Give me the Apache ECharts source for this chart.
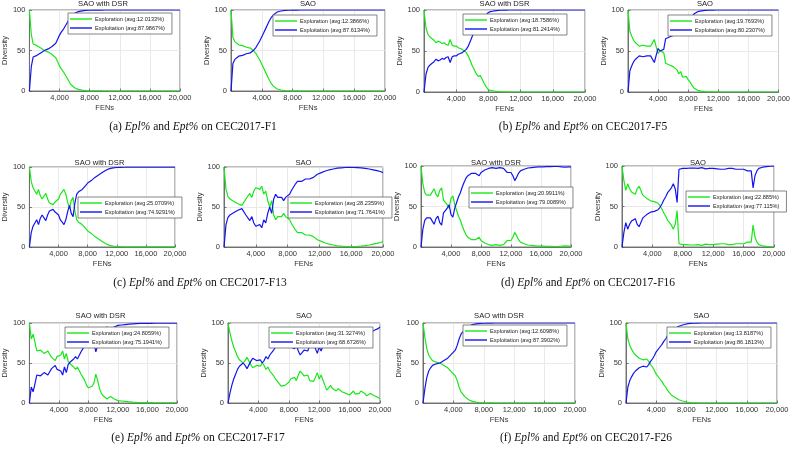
<!DOCTYPE html>
<html><head><meta charset="utf-8">
<script src="https://cdn.jsdelivr.net/npm/echarts@6/dist/echarts.min.js"></script>
<style>html,body{margin:0;padding:0;background:#fff}#c{width:793px;height:451px}</style>
</head><body><div id="c"></div>
<script>
// sampling grid of function evaluations (FENs), 0..20000
const FENS = Array.from({length: 81}, (_, i) => i * 250);

const EPL_F1_DSR = [100,70,58,57,56,55,53,51,50,50, 48,47,45,43,41,36,31,27,24,20, 16,12,8,6,4,3,2,1.5,1,0.8, 0.5,0.4,0.3,0.2,0.2,0.1,0.1,0.1,0.1,0.1, 0,0,0,0,0,0,0,0,0,0, 0,0,0,0,0,0,0,0,0,0, 0,0,0,0,0,0,0,0,0,0, 0,0,0,0,0,0,0,0,0,0, 0];
const EPL_F1_SAO = [100,66,61,59,57,57,56,55,54,55, 53,51,49,46,42,38,33,28,23,18, 13,9,6,4,2.5,1.8,1.2,0.8,0.5,0.4, 0.3,0.2,0.2,0.1,0.1,0.1,0,0,0,0, 0,0,0,0,0,0,0,0,0,0, 0,0,0,0,0,0,0,0,0,0, 0,0,0,0,0,0,0,0,0,0, 0,0,0,0,0,0,0,0,0,0, 0];
const EPL_F5_DSR = [100,78,70,67,65,63,60,62,61,59, 60,58,57,64,57,56,56,54,53,52, 50,48,44,38,32,27,22,19,20,15, 10,6,3,2,1.5,1,0.7,0.5,0.3,0.2, 0.1,0.1,0,0,0,0,0,0,0,0, 0,0,0,0,0,0,0,0,0,0, 0,0,0,0,0,0,0,0,0,0, 0,0,0,0,0,0,0,0,0,0, 0];
const EPL_F5_SAO = [100,74,68,63,60,58,56,55,57,56, 56,57,56,55,64,55,47,50,49,48, 35,34,33,35,31,29,27,22,25,18, 20,19,15,12,8,5,3,2,1.5,1, 0.6,0.4,0.3,0.2,0.1,0.1,0,0,0,0, 0,0,0,0,0,0,0,0,0,0, 0,0,0,0,0,0,0,0,0,0, 0,0,0,0,0,0,0,0,0,0, 0];
const EPL_F13_DSR = [100,82,74,70,66,72,64,60,58,67, 60,55,54,53,56,58,60,66,69,72, 66,56,48,58,62,45,34,31,29,28, 26,23,20,19,17,15,13,12,10,9, 7,5,4,3,2,1.5,1,0.8,0.6,0.5, 0.4,0.3,0.3,0.2,0.2,0.2,0.2,0.2,0.2,0.2, 0.2,0.2,0.2,0.2,0.2,0.2,0.2,0.2,0.2,0.2, 0.2,0.2,0.2,0.2,0.2,0.2,0.2,0.2,0.2,0.2, 0.2];
const EPL_F13_SAO = [100,72,63,60,58,57,55,54,53,52, 51,60,58,67,62,70,74,75,72,76, 66,70,58,50,58,40,34,38,40,38, 42,38,36,34,29,25,21,18,17,18, 16,15,16,15,17,13,11,9,8,7, 6,5,4,3.5,3,2.5,2,1.5,1.2,1, 0.8,0.6,0.5,0.5,0.5,0.6,0.7,0.8,1,1.2, 1.5,1.8,2,2.5,3,3.5,4,4.5,5,6, 7];
const EPL_F16_DSR = [100,78,67,64,62,64,68,72,65,62, 70,73,58,55,52,48,60,63,52,45, 38,33,26,20,15,12,10,9,8,9, 10,12,8,6,5,4,3,3,2,2, 3,4,2,2,3,5,8,7,8,12, 18,14,9,6,5,4,3,2.5,2,2, 1.5,1.5,1.2,1,1,1,0.9,0.8,0.8,0.7, 0.6,0.6,0.5,0.6,0.8,1,1.2,1.5,1.2,1, 1];
const EPL_F16_SAO = [100,82,70,78,72,68,66,65,72,75, 74,64,62,60,58,57,55,56,56,54, 51,47,42,38,33,30,27,22,28,45, 4,3,3,2.5,3,2,2.5,3,2.5,2, 3,2.5,2,3,3.5,4,3,2.5,3,4, 3.5,3,4,3,4,3.5,3,4,3,3.5, 4,3,4,5,4,5,6,5,6,27, 12,6,3,2,1.5,1,0.7,0.5,0.3,0.2, 0.2];
const EPL_F17_DSR = [100,80,86,76,65,64,66,64,62,60, 65,61,57,55,53,58,56,60,65,55, 62,52,49,47,45,42,45,43,36,32, 28,22,19,18,21,25,36,28,18,12, 9,7,5,6,8,6,5,4,3,3, 2.5,2,2,1.8,1.5,1.2,1,0.8,0.7,0.6, 0.5,0.5,0.5,0.4,0.4,0.4,0.4,0.3,0.3,0.3, 0.3,0.3,0.3,0.3,0.3,0.3,0.3,0.3,0.3,0.3, 0.3];
const EPL_F17_SAO = [100,88,78,70,64,58,54,55,50,53, 57,58,48,44,42,47,48,46,50,47, 42,45,40,38,34,30,27,24,21,20, 22,23,26,30,30,32,28,35,40,37, 34,32,35,28,30,27,32,38,30,35, 33,22,16,19,22,18,16,15,18,16, 14,13,12,11,10,12,15,11,10,12, 15,14,12,9,10,12,11,9,8,7, 5];
const EPL_F26_DSR = [100,82,68,60,56,53,55,51,50,50, 49,47,46,44,42,39,37,34,28,20, 14,11,8,6,4,3,2,1.5,1,0.8, 0.5,0.4,0.3,0.2,0.1,0.1,0.1,0,0,0, 0,0,0,0,0,0,0,0,0,0, 0,0,0,0,0,0,0,0,0,0, 0,0,0,0,0,0,0,0,0,0, 0,0,0,0,0,0,0,0,0,0, 0];
const EPL_F26_SAO = [100,80,72,67,63,60,58,56,55,54, 53,55,52,48,45,41,36,34,30,27, 23,20,16,13,10,8.5,7,5.5,4,3, 2.5,2,1.2,0.8,0.5,0.4,0.3,0.2,0.1,0.1, 0,0,0,0,0,0,0,0,0,0, 0,0,0,0,0,0,0,0,0,0, 0,0,0,0,0,0,0,0,0,0, 0,0,0,0,0,0,0,0,0,0, 0];

const EPL_SERIES = [EPL_F1_DSR, EPL_F1_SAO, EPL_F5_DSR, EPL_F5_SAO, EPL_F13_DSR, EPL_F13_SAO,
                    EPL_F16_DSR, EPL_F16_SAO, EPL_F17_DSR, EPL_F17_SAO, EPL_F26_DSR, EPL_F26_SAO];
const PANEL_TITLES = ['SAO with DSR','SAO','SAO with DSR','SAO','SAO with DSR','SAO',
                      'SAO with DSR','SAO','SAO with DSR','SAO','SAO with DSR','SAO'];
const EPL_AVG = ['12.0133','12.3866','18.7586','19.7693','25.0709','28.2359','20.9911','22.885','24.8059','31.3274','12.6098','13.8187'];
const EPT_AVG = ['87.9867','87.6134','81.2414','80.2307','74.9291','71.7641','79.0089','77.115','75.1941','68.6726','87.3902','86.1813'];
const CAPTION_LETTERS = ['(a)','(b)','(c)','(d)','(e)','(f)'];
const CAPTION_FUNCS = ['CEC2017-F1','CEC2017-F5','CEC2017-F13','CEC2017-F16','CEC2017-F17','CEC2017-F26'];
const X_TICKS = [0, 4000, 8000, 12000, 16000, 20000];

// layout (pixels)
const GRID_BOX = [[26,10,154,81],[231,10,154,81],[424,10,161,82],[628,10,154,82],
                  [24,167,151,80],[224,167,159,80],[421,166,150,81],[622,166,152,81],
                  [24,323,153,80],[228,323,152,80],[423,323,152,80],[626,323,151,80]];
const LEGEND_POS = [[68,13],[273,15],[463,14],[668,15],[78,197],[288,197],[469,187],[686,191],
                    [65,327],[269,327],[463,325],[667,327]];
const TITLE_Y = [4,4,4,4,163,163,163,163,316,316,316,316];
const CAPTION_POS = [[193,127],[583,127],[200,283],[588,283],[198,438],[586,438]];

const SANS = "'Liberation Sans', Arial, sans-serif";
const SERIF = "'Liberation Serif', 'Times New Roman', serif";
const GREEN = '#18e818', BLUE = '#1414f0';

const grid = [], xAxis = [], yAxis = [], series = [], legend = [], title = [];
EPL_SERIES.forEach((epl, k) => {
  const [l, t, w, h] = GRID_BOX[k];
  grid.push({left: l, top: t, width: w, height: h, show: true, borderColor: '#555', borderWidth: 0.8, backgroundColor: '#fff'});
  xAxis.push({
    gridIndex: k, type: 'value', min: X_TICKS[0], max: X_TICKS[X_TICKS.length-1], interval: X_TICKS[1]-X_TICKS[0],
    axisLine: {show: true, lineStyle: {color: '#555', width: 0.8}},
    axisTick: {show: true, inside: true, length: 2.5, lineStyle: {color: '#555', width: 0.8}},
    axisLabel: {fontSize: 7.5, fontFamily: SANS, color: '#333', margin: 3,
      formatter: v => v === 0 ? '' : v.toLocaleString('en-US')},
    splitLine: {show: true, lineStyle: {color: '#e4e4e4', width: 0.8}},
    name: 'FENs', nameLocation: 'middle', nameGap: 13,
    nameTextStyle: {fontSize: 7.5, fontFamily: SANS, color: '#333'}
  });
  yAxis.push({
    gridIndex: k, type: 'value', min: 0, max: 100, interval: 50,
    axisLine: {show: true, lineStyle: {color: '#555', width: 0.8}},
    axisTick: {show: true, inside: true, length: 2.5, lineStyle: {color: '#555', width: 0.8}},
    axisLabel: {fontSize: 7.5, fontFamily: SANS, color: '#333', margin: 4},
    splitLine: {show: true, lineStyle: {color: '#e4e4e4', width: 0.8}},
    name: 'Diversity', nameLocation: 'middle', nameGap: 13,
    nameTextStyle: {fontSize: 7.5, fontFamily: SANS, color: '#333'}
  });
  const nEpl = 'Exploration (avg:' + EPL_AVG[k] + '%)';
  const nEpt = 'Exploitation (avg:' + EPT_AVG[k] + '%)';
  // Exploitation is the complement of exploration (Epl% + Ept% = 100)
  const ept = epl.map(v => 100 - v);
  series.push({name: nEpl, type: 'line', xAxisIndex: k, yAxisIndex: k, symbol: 'none', showSymbol: false,
    color: GREEN, lineStyle: {color: GREEN, width: 1.2}, data: FENS.map((x, i) => [x, epl[i]])});
  series.push({name: nEpt, type: 'line', xAxisIndex: k, yAxisIndex: k, symbol: 'none', showSymbol: false,
    color: BLUE, lineStyle: {color: BLUE, width: 1.2}, data: FENS.map((x, i) => [x, ept[i]])});
  legend.push({
    data: [nEpl, nEpt], left: LEGEND_POS[k][0], top: LEGEND_POS[k][1], orient: 'vertical',
    icon: 'rect', itemWidth: 22, itemHeight: 1.4, itemGap: 3,
    padding: [3, 7, 3, 2], backgroundColor: '#fff', borderColor: '#666', borderWidth: 0.8,
    selectedMode: false, textStyle: {fontSize: 5.6, fontFamily: SANS, color: '#222', padding: [0,0,0,-2]}
  });
  title.push({
    text: PANEL_TITLES[k], left: l + w / 2, top: TITLE_Y[k], textAlign: 'center', textVerticalAlign: 'middle', padding: 0,
    textStyle: {fontSize: 7.6, fontWeight: 'normal', fontFamily: SANS, color: '#222'}
  });
});
CAPTION_LETTERS.forEach((c, j) => {
  title.push({
    text: c + ' {i|Epl%} and {i|Ept%} on ' + CAPTION_FUNCS[j],
    left: CAPTION_POS[j][0], top: CAPTION_POS[j][1], textAlign: 'center', textVerticalAlign: 'middle', padding: 0,
    textStyle: {fontSize: 11.5, fontWeight: 'normal', fontFamily: SERIF, color: '#111',
      rich: {i: {fontSize: 11.5, fontStyle: 'italic', fontFamily: SERIF, color: '#111'}}}
  });
});

const chart = echarts.init(document.getElementById('c'), null, {renderer: 'canvas'});
chart.setOption({animation: false, backgroundColor: '#fff', title, grid, xAxis, yAxis, legend, series});
</script>
</body></html>
